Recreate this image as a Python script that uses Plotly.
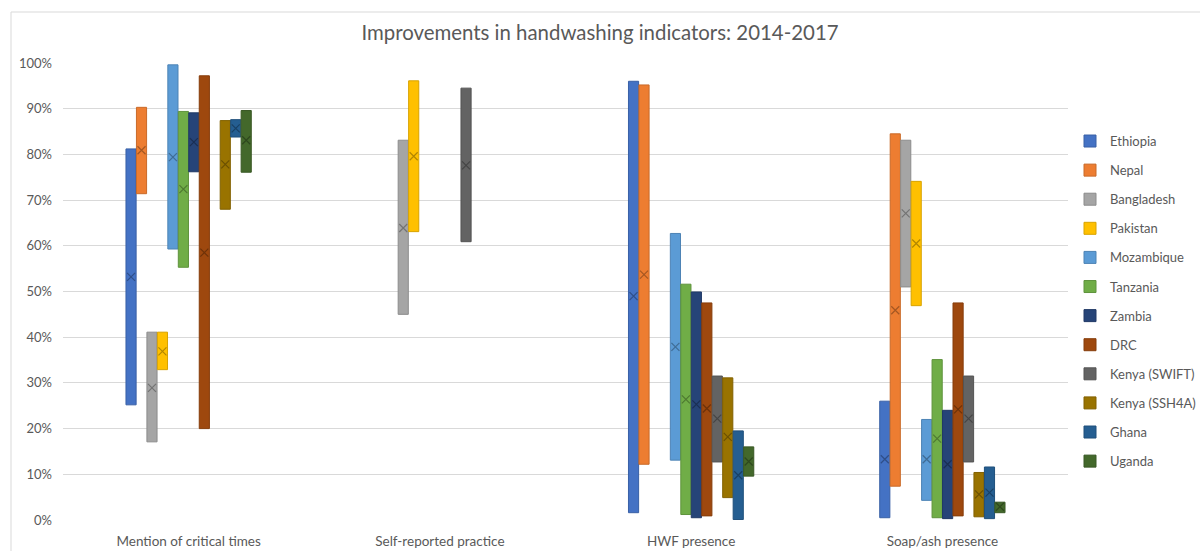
import plotly.graph_objects as go

categories = ["Mention of critical times", "Self-reported practice", "HWF presence", "Soap/ash presence"]
countries = ["Ethiopia", "Nepal", "Bangladesh", "Pakistan", "Mozambique", "Tanzania",
             "Zambia", "DRC", "Kenya (SWIFT)", "Kenya (SSH4A)", "Ghana", "Uganda"]
colors = ["#4472C4", "#ED7D31", "#A5A5A5", "#FFC000", "#5B9BD5", "#70AD47",
          "#264478", "#9E480E", "#636363", "#997300", "#255E91", "#43682B"]

# rows: countries, columns: categories (values in %)
low_vals = [
    [25.2, None, 1.6, 0.5],
    [71.4, None, 12.2, 7.4],
    [17.1, 45.0, None, 51.0],
    [32.9, 63.1, None, 46.9],
    [59.3, None, 13.1, 4.3],
    [55.3, None, 1.2, 0.5],
    [76.2, None, 0.5, 0.3],
    [20.0, None, 0.9, 0.9],
    [None, 60.9, 12.7, 12.7],
    [68.0, None, 4.9, 0.7],
    [83.8, None, 0.1, 0.3],
    [76.1, None, 9.6, 1.6],
]
high_vals = [
    [81.2, None, 96.0, 26.0],
    [90.3, None, 95.2, 84.5],
    [41.1, 83.1, None, 83.1],
    [41.1, 96.1, None, 74.1],
    [99.6, None, 62.7, 22.0],
    [89.4, None, 51.6, 35.1],
    [89.1, None, 49.9, 24.0],
    [97.2, None, 47.5, 47.5],
    [None, 94.5, 31.5, 31.5],
    [87.4, None, 31.1, 10.4],
    [87.6, None, 19.5, 11.6],
    [89.6, None, 16.0, 3.9],
]
mean_vals = [
    [53.2, None, 49.0, 13.3],
    [80.9, None, 53.7, 45.9],
    [28.9, 63.9, None, 67.1],
    [36.9, 79.6, None, 60.5],
    [79.4, None, 37.9, 13.3],
    [72.4, None, 26.4, 17.8],
    [82.7, None, 25.3, 12.2],
    [58.5, None, 24.4, 24.2],
    [None, 77.6, 22.2, 22.2],
    [77.8, None, 18.2, 5.6],
    [85.7, None, 9.8, 6.0],
    [83.1, None, 12.8, 2.9],
]


def darker(hex_color, f=0.72):
    h = hex_color.lstrip("#")
    r, g, b = (int(h[i:i + 2], 16) for i in (0, 2, 4))
    return "rgb(%d,%d,%d)" % (r * f, g * f, b * f)


bargap = 0.5
n = len(countries)
slot = (1 - bargap) / n

fig = go.Figure()
for i, name in enumerate(countries):
    xs, bases, heights, mxs, mys = [], [], [], [], []
    for c in range(len(categories)):
        lo, hi, me = low_vals[i][c], high_vals[i][c], mean_vals[i][c]
        pos = c + (i - (n - 1) / 2) * slot
        if lo is not None and hi is not None:
            xs.append(pos)
            bases.append(lo / 100)
            heights.append((hi - lo) / 100)
        if me is not None:
            mxs.append(pos)
            mys.append(me / 100)
    fig.add_trace(go.Bar(
        x=xs, y=heights, base=bases, width=slot * 0.97, name=name,
        legendgroup=name,
        marker=dict(color=colors[i], line=dict(color=darker(colors[i], 0.85), width=1)),
    ))
    fig.add_trace(go.Scatter(
        x=mxs, y=mys, mode="markers", legendgroup=name, showlegend=False,
        marker=dict(symbol="x-thin", size=8,
                    line=dict(color=darker(colors[i], 0.7), width=1.2)),
    ))

fig.update_layout(
    width=1200, height=551,
    margin=dict(l=63, r=132, t=63, b=31, autoexpand=False),
    paper_bgcolor="white", plot_bgcolor="white",
    barmode="overlay",
    font=dict(family="Lato", color="#595959", size=13),
    title=dict(text="Improvements in handwashing indicators: 2014-2017",
               x=0.5, xanchor="center", y=0.94, yanchor="middle", automargin=False,
               font=dict(family="Lato", size=20.4, color="#595959")),
    legend=dict(xref="container", x=1070 / 1200, xanchor="left", y=0.862, yanchor="top",
                font=dict(family="Lato", size=13, color="#595959"),
                tracegroupgap=9.2, bgcolor="rgba(0,0,0,0)"),
    showlegend=True,
    xaxis=dict(range=[-0.5, 3.5], tickmode="array", tickvals=list(range(len(categories))),
               ticktext=categories, showgrid=False, zeroline=False, showline=False,
               automargin=False,
               ticks="", ticklabelstandoff=11, tickfont=dict(size=13.5, color="#595959")),
    yaxis=dict(range=[0, 1], dtick=0.1, tickformat=".0%", showgrid=True,
               gridcolor="#d9d9d9", gridwidth=1, zeroline=False, showline=False,
               automargin=False,
               ticks="", ticklabelstandoff=10, tickfont=dict(size=13, color="#595959")),
    shapes=[dict(type="rect", xref="paper", yref="paper",
                 x0=(11 - 63) / 1005, x1=1.2, y0=-0.2, y1=1 + (63 - 12) / 457,
                 line=dict(color="#d9d9d9", width=1), fillcolor="rgba(0,0,0,0)", layer="below")],
)

fig.write_html("out.html")
